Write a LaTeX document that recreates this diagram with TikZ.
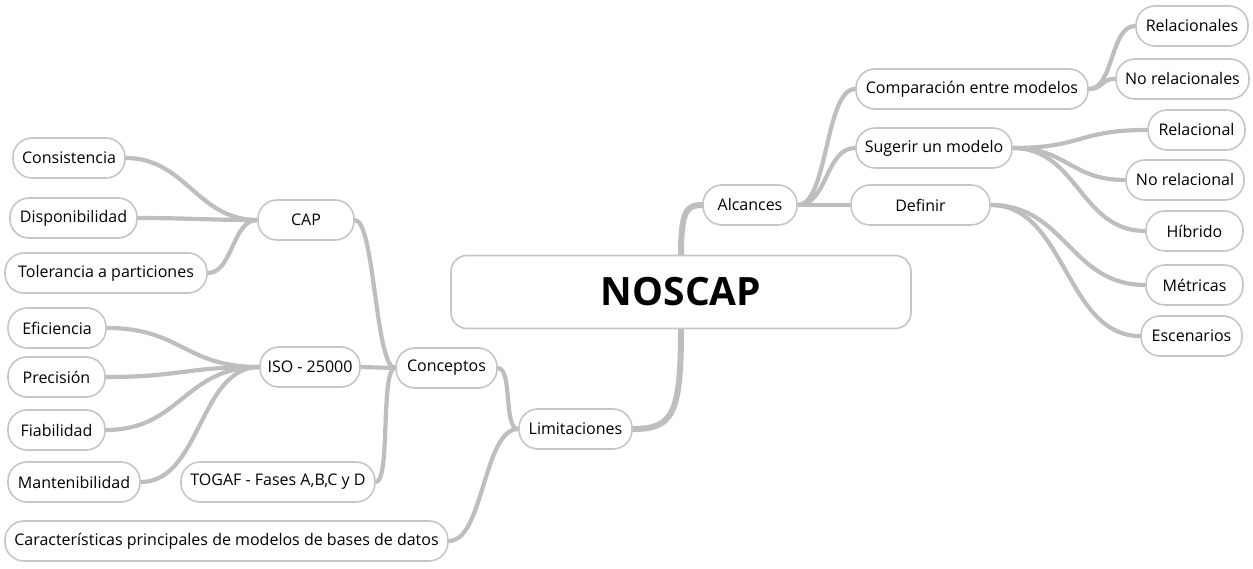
\documentclass[tikz,border=0pt]{standalone}
\usepackage{fontspec}
\setmainfont{Open Sans}
\definecolor{edgegray}{HTML}{BEBEBE}
\definecolor{boxgray}{HTML}{C6C6C6}
\pgfdeclarelayer{bg}
\pgfsetlayers{bg,main}
\begin{document}
\begin{tikzpicture}[x=1pt,y=-1pt,
  box/.style={draw=boxgray, line width=1.6pt, fill=white, rounded corners=19pt,
    minimum height=40pt, inner sep=0pt, font=\fontsize{16}{19}\selectfont, text=black},
  rootbox/.style={draw=boxgray, line width=1.6pt, fill=white, rounded corners=16pt,
    minimum height=73pt, minimum width=460pt, inner sep=0pt,
    font=\fontsize{39}{44}\selectfont\bfseries},
  edge/.style={draw=edgegray, line width=4.2pt, line cap=round},
  trunk/.style={draw=edgegray, line width=6pt, line cap=round}]
\useasboundingbox (0,0) rectangle (1253,569);

\node[rootbox] (root) at (681,292) {NOSCAP};

\node[box, minimum width=94pt] (alc) at (750,205) {Alcances};
\node[box, minimum width=232pt] (comp) at (972,89) {Comparación entre modelos};
\node[box, minimum width=156pt] (sug) at (934,148) {Sugerir un modelo};
\node[box, minimum width=139pt] (def) at (920.5,205) {Definir};
\node[box, minimum width=112pt] (rels) at (1192,26) {Relacionales};
\node[box, minimum width=133pt] (norels) at (1182.5,79) {No relacionales};
\node[box, minimum width=97pt] (rel) at (1196.5,130) {Relacional};
\node[box, minimum width=118pt] (norel) at (1185,180) {No relacional};
\node[box, minimum width=97pt] (hib) at (1194.5,231) {Híbrido};
\node[box, minimum width=97pt] (met) at (1194.5,285) {Métricas};
\node[box, minimum width=101pt] (esc) at (1191.5,336) {Escenarios};

\node[box, minimum width=113pt] (lim) at (575.5,429) {Limitaciones};
\node[box, minimum width=101pt] (con) at (446.5,368) {Conceptos};
\node[box, minimum width=96pt] (cap) at (306,220) {CAP};
\node[box, minimum width=100pt] (iso) at (310,367) {ISO - 25000};
\node[box, minimum width=194pt] (tog) at (278,482) {TOGAF - Fases A,B,C y D};
\node[box, minimum width=112pt] (cons) at (69,158) {Consistencia};
\node[box, minimum width=127pt] (disp) at (73.5,218) {Disponibilidad};
\node[box, minimum width=202pt] (tol) at (106,273) {Tolerancia a particiones};
\node[box, minimum width=98pt] (efi) at (57,328) {Eficiencia};
\node[box, minimum width=97pt] (pre) at (56.5,377) {Precisión};
\node[box, minimum width=97pt] (fia) at (56.5,430) {Fiabilidad};
\node[box, minimum width=132pt] (man) at (74,482) {Mantenibilidad};
\node[box, minimum width=443pt] (car) at (226.5,541) {Características principales de modelos de bases de datos};

\begin{pgfonlayer}{bg}
\draw[trunk] (root.north) .. controls +(0,-45) and +(-15,0) .. (alc.west);
\draw[trunk] (root.south) .. controls +(0,85) and +(40,0) .. (lim.east);
\draw[edge] (alc.east) .. controls +(30,0) and +(-30,0) .. (comp.west);
\draw[edge] (alc.east) .. controls +(30,0) and +(-30,0) .. (sug.west);
\draw[edge] (alc.east) .. controls +(25,0) and +(-25,0) .. (def.west);
\draw[edge] (comp.east) .. controls +(25,0) and +(-25,0) .. (rels.west);
\draw[edge] (comp.east) .. controls +(15,0) and +(-15,0) .. (norels.west);
\draw[edge] (sug.east) .. controls +(70,0) and +(-70,0) .. (rel.west);
\draw[edge] (sug.east) .. controls +(55,0) and +(-55,0) .. (norel.west);
\draw[edge] (sug.east) .. controls +(65,0) and +(-65,0) .. (hib.west);
\draw[edge] (def.east) .. controls +(75,0) and +(-75,0) .. (met.west);
\draw[edge] (def.east) .. controls +(75,0) and +(-75,0) .. (esc.west);
\draw[edge] (lim.west) .. controls +(-15,0) and +(15,0) .. (con.east);
\draw[edge] (lim.west) .. controls +(-35,0) and +(35,0) .. (car.east);
\draw[edge] (con.west) .. controls +(-20,0) and +(20,0) .. (cap.east);
\draw[edge] (con.west) .. controls +(-18,0) and +(18,0) .. (iso.east);
\draw[edge] (con.west) .. controls +(-15,0) and +(15,0) .. (tog.east);
\draw[edge] (cap.west) .. controls +(-60,0) and +(60,0) .. (cons.east);
\draw[edge] (cap.west) .. controls +(-50,0) and +(50,0) .. (disp.east);
\draw[edge] (cap.west) .. controls +(-25,0) and +(25,0) .. (tol.east);
\draw[edge] (iso.west) .. controls +(-75,0) and +(75,0) .. (efi.east);
\draw[edge] (iso.west) .. controls +(-75,0) and +(75,0) .. (pre.east);
\draw[edge] (iso.west) .. controls +(-75,0) and +(75,0) .. (fia.east);
\draw[edge] (iso.west) .. controls +(-60,0) and +(60,0) .. (man.east);
\end{pgfonlayer}
\end{tikzpicture}
\end{document}
